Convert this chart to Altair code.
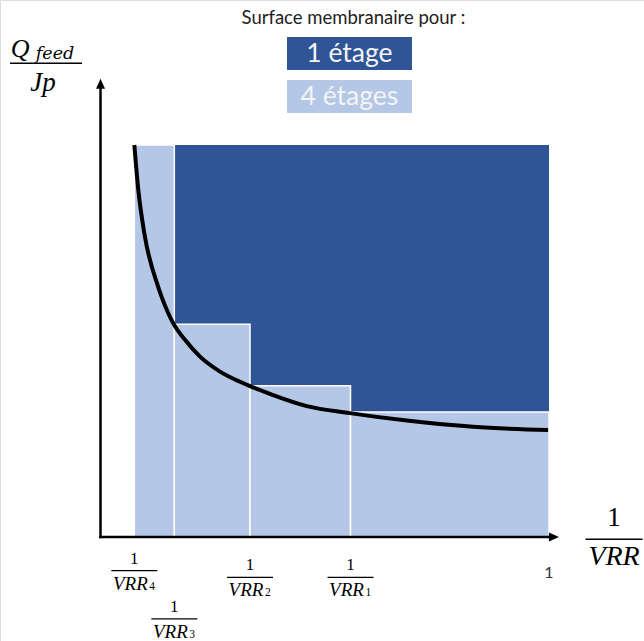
import altair as alt
import pandas as pd

# ---------------- data ----------------
# stage boundaries on the 1/VRR axis: 1/VRR4, 1/VRR3, 1/VRR2, 1/VRR1, 1
stage_x = [0.0754, 0.1646, 0.3333, 0.5574, 1.0]
# Q_feed/Jp level of each of the 4 stages (light blue rectangles)
stage_h = [1.0, 0.543, 0.386, 0.319]
# single stage: works at the final (highest) level over the whole range
one_stage_h = 1.0

# curve Q_feed/Jp vs 1/VRR
curve_x = [0.0754, 0.0843, 0.0977, 0.128, 0.1365, 0.1623, 0.1884, 0.2219,
           0.2664, 0.311, 0.3333, 0.3557, 0.385, 0.460, 0.556, 0.683, 0.831, 0.998]
curve_y = [1.0, 0.885, 0.775, 0.640, 0.612, 0.545, 0.503, 0.460,
           0.422, 0.396, 0.385, 0.375, 0.362, 0.334, 0.316, 0.297, 0.281, 0.273]

# tick labels under the axis
frac_subs = ["4", "3", "2", "1"]
frac_x = [0.0754, 0.1646, 0.3333, 0.5574]
frac_y = [-0.086, -0.209, -0.103, -0.103]   # layout of the fraction bars
one_label = ["1"]

legend_title = "Surface membranaire pour :"
legend_labels = ["1 étage", "4 étages"]

DARK = "#2F5597"
LIGHT = "#B4C7E7"
SERIF = "Liberation Serif"
SANS = "Lato"

# ---------------- scales ----------------
xs = alt.Scale(domain=[-0.2241, 1.2118], nice=False, zero=False)
ys = alt.Scale(domain=[-0.2653, 1.3699], nice=False, zero=False)


def X(f="x"):
    return alt.X(f"{f}:Q", scale=xs, axis=None)


def Y(f="y"):
    return alt.Y(f"{f}:Q", scale=ys, axis=None)


# ---------------- layers ----------------
dark_df = pd.DataFrame({"x": [stage_x[0]], "x2": [stage_x[-1]], "y": [0.0], "y2": [one_stage_h]})
dark = alt.Chart(dark_df).mark_rect(color=DARK).encode(
    x=X(), x2="x2:Q", y=Y(), y2="y2:Q")

light_df = pd.DataFrame({"x": stage_x[:-1], "x2": stage_x[1:], "y": [0.0] * 4, "y2": stage_h})
light = alt.Chart(light_df).mark_rect(color=LIGHT, stroke="white", strokeWidth=1.5).encode(
    x=X(), x2="x2:Q", y=Y(), y2="y2:Q")

curve_df = pd.DataFrame({"x": curve_x, "y": curve_y})
curve = alt.Chart(curve_df).mark_line(color="black", strokeWidth=4, interpolate="monotone").encode(
    x=X(), y=Y())

# axes with arrows
yaxis = alt.Chart(pd.DataFrame({"x": [0.0], "y": [-0.003], "y2": [1.145]})).mark_rule(
    color="black", strokeWidth=2.5).encode(x=X(), y=Y(), y2="y2:Q")
xaxis = alt.Chart(pd.DataFrame({"x": [-0.003], "x2": [1.01], "y": [0.0]})).mark_rule(
    color="black", strokeWidth=2.5).encode(x=X(), x2="x2:Q", y=Y())
arrow_up = alt.Chart(pd.DataFrame({"x": [0.0], "y": [1.156]})).mark_point(
    shape="M0,-1L0.9,1L-0.9,1Z", filled=True, color="black", opacity=1, size=100).encode(x=X(), y=Y())
arrow_right = alt.Chart(pd.DataFrame({"x": [1.011], "y": [0.0]})).mark_point(
    shape="M1,0L-1,-0.9L-1,0.9Z", filled=True, color="black", opacity=1, size=100).encode(x=X(), y=Y())

# "1" tick label
one_df = pd.DataFrame({"x": [stage_x[-1]], "y": [-0.092], "t": one_label})
one_txt = alt.Chart(one_df).mark_text(font=SANS, fontSize=16, color="#333333").encode(
    x=X(), y=Y(), text="t:N")

# fraction labels 1/VRR_n
frac_df = pd.DataFrame({"x": frac_x, "y": frac_y, "sub": frac_subs,
                        "num": ["1"] * 4, "den": ["VRR"] * 4})
frac_bar = alt.Chart(frac_df).mark_tick(orient="horizontal", size=46, thickness=1.2,
                                        color="black", opacity=1).encode(x=X(), y=Y())
frac_num = alt.Chart(frac_df).mark_text(font=SERIF, fontSize=17, dy=-12, color="black").encode(
    x=X(), y=Y(), text="num:N")
frac_den = alt.Chart(frac_df).mark_text(font=SERIF, fontStyle="italic", fontSize=19, dy=13, dx=-4,
                                        color="black").encode(x=X(), y=Y(), text="den:N")
frac_sub = alt.Chart(frac_df).mark_text(font=SERIF, fontSize=11.5, dy=16, dx=15, align="left",
                                        color="black").encode(x=X(), y=Y(), text="sub:N")

# axis title 1/VRR
xt_df = pd.DataFrame({"x": [1.145], "y": [-0.006], "num": ["1"], "den": ["VRR"]})
xt_bar = alt.Chart(xt_df).mark_tick(orient="horizontal", size=57, thickness=1.5,
                                    color="black", opacity=1).encode(x=X(), y=Y())
xt_num = alt.Chart(xt_df).mark_text(font=SERIF, fontSize=27, dy=-21, color="black").encode(
    x=X(), y=Y(), text="num:N")
xt_den = alt.Chart(xt_df).mark_text(font=SERIF, fontStyle="italic", fontSize=28, dy=18,
                                    color="black").encode(x=X(), y=Y(), text="den:N")

# y title Q_feed / Jp
yt_df = pd.DataFrame({"x": [-0.1215], "y": [1.2084], "q": ["Q"], "f": ["feed"], "j": ["Jp"]})
yt_bar = alt.Chart(yt_df).mark_tick(orient="horizontal", size=72, thickness=1.5,
                                    color="black", opacity=1).encode(x=X(), y=Y())
yt_q = alt.Chart(yt_df).mark_text(font=SERIF, fontStyle="italic", fontSize=26, dx=-26, dy=-6,
                                  baseline="alphabetic", color="black").encode(x=X(), y=Y(), text="q:N")
yt_f = alt.Chart(yt_df).mark_text(font="DejaVu Serif", fontStyle="italic", fontSize=17.5, dx=9, dy=-4,
                                  baseline="alphabetic", color="black").encode(x=X(), y=Y(), text="f:N")
yt_j = alt.Chart(yt_df).mark_text(font=SERIF, fontStyle="italic", fontSize=27, dx=-3, dy=28,
                                  baseline="alphabetic", color="black").encode(x=X(), y=Y(), text="j:N")

# legend
lt_df = pd.DataFrame({"x": [0.564], "y": [1.324], "t": [legend_title]})
leg_title = alt.Chart(lt_df).mark_text(font=SANS, fontSize=18.5, color="#222222").encode(
    x=X(), y=Y(), text="t:N")
box_df = pd.DataFrame({"x": [0.4158, 0.4158], "x2": [0.6945, 0.6945],
                       "y": [1.1913, 1.0816], "y2": [1.2755, 1.1658],
                       "yc": [1.2334, 1.1237], "xc": [0.555, 0.555],
                       "t": legend_labels, "c": [DARK, LIGHT]})
boxes = alt.Chart(box_df).mark_rect().encode(
    x=X(), x2="x2:Q", y=Y(), y2="y2:Q", color=alt.Color("c:N", scale=None))
box_txt = alt.Chart(box_df).mark_text(font=SANS, fontSize=26.5, color="#F4F4F4").encode(
    x=X("xc"), y=Y("yc"), text="t:N")

chart = alt.layer(
    dark, light, curve, yaxis, xaxis, arrow_up, arrow_right, one_txt,
    frac_bar, frac_num, frac_den, frac_sub,
    xt_bar, xt_num, xt_den, yt_bar, yt_q, yt_f, yt_j,
    leg_title, boxes, box_txt,
).properties(
    width=644, height=641, padding=0, autosize=alt.AutoSizeParams(type="none"),
).configure_view(stroke=None).configure(background="white")

chart.save("out.html", embed_options={"renderer": "svg", "actions": False})
